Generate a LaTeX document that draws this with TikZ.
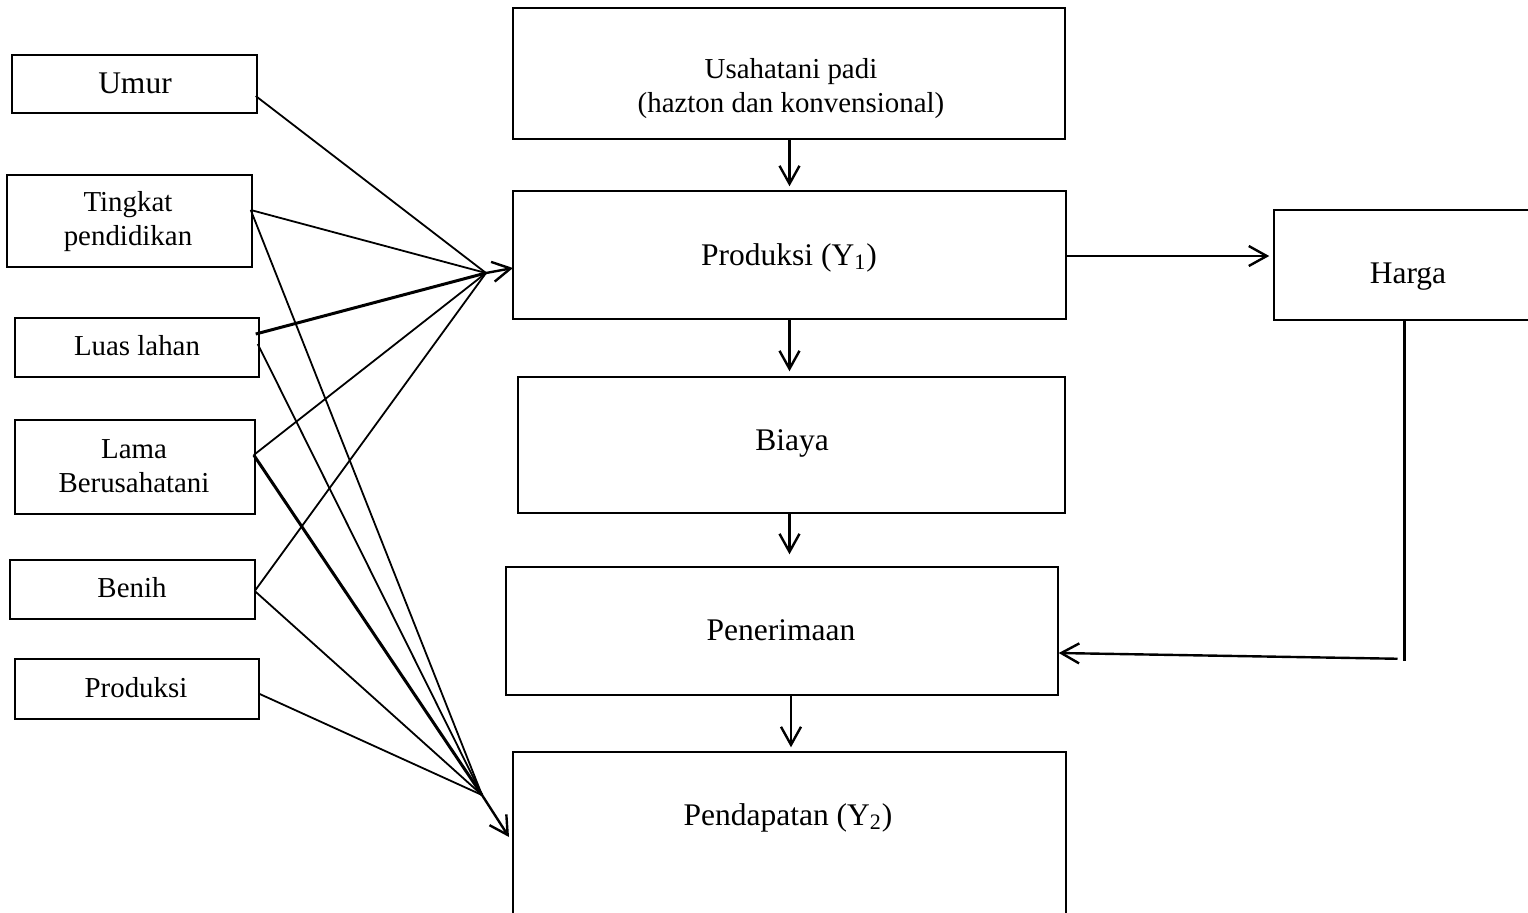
\documentclass[tikz,border=0pt]{standalone}
\usepackage{fontspec}
\setmainfont{Liberation Serif}
\usetikzlibrary{arrows.meta,calc,fit}
\begin{document}
\begin{tikzpicture}[x=0.5pt,y=-0.5pt,
  box/.style={draw,line width=0.75pt,inner sep=0pt},
  lbl/.style={inner sep=0pt,align=center},
  big/.style={font=\fontsize{15.75}{18}\selectfont},
  small/.style={font=\fontsize{14.45}{17}\selectfont},
  conn/.style={line width=0.9pt},
  thickconn/.style={line width=1.5pt},
  arr/.style={line width=1.2pt,-{Straight Barb[length=9pt,width=10pt]}},
]
\useasboundingbox (0,0) rectangle (1528,912);
% left boxes
\node[box,fit={(12,55) (257,113)}] (umur) {};
\node[box,fit={(7,175) (252,267)}] (tingkat) {};
\node[box,fit={(15,318) (259,377)}] (luas) {};
\node[box,fit={(15,420) (255,514)}] (lama) {};
\node[box,fit={(10,560) (255,619)}] (benih) {};
\node[box,fit={(15,659) (259,719)}] (prod) {};
% centre boxes
\node[box,fit={(513,8) (1065,139)}] (usaha) {};
\node[box,fit={(513,191) (1066,319)}] (y1) {};
\node[box,fit={(518,377) (1065,513)}] (biaya) {};
\node[box,fit={(506,567) (1058,695)}] (pener) {};
\node[box,fit={(513,752) (1066,940)}] (y2) {};
\node[box,fit={(1274,210) (1545,320)}] (harga) {};
% labels
\node[lbl,big,anchor=base] (umurT) at (135,93) {Umur};
\node[lbl,small] (tingkatT) at (128,222) {Tingkat\\pendidikan};
\node[lbl,small,anchor=base] (luasT) at (137,355) {Luas lahan};
\node[lbl,small] (lamaT) at (134,466) {Lama\\Berusahatani};
\node[lbl,small,anchor=base] (benihT) at (132,597) {Benih};
\node[lbl,small,anchor=base] (prodT) at (136,697) {Produksi};
\node[lbl,small] (usahaT) at (791,89) {Usahatani padi\\(hazton dan konvensional)};
\node[lbl,big,anchor=base] (y1T) at (789,265) {Produksi (Y\textsubscript{1})};
\node[lbl,big,anchor=base] (biayaT) at (792,450) {Biaya};
\node[lbl,big,anchor=base] (penerT) at (781,640) {Penerimaan};
\node[lbl,big,anchor=base] (y2T) at (788,825) {Pendapatan (Y\textsubscript{2})};
\node[lbl,big,anchor=base] (hargaT) at (1408,283) {Harga};
% convergence points
\coordinate (c1) at (486,273);
\coordinate (t1) at (513,268);
\coordinate (c2) at (482,795);
\coordinate (t2) at (509,837);
% lines to Produksi (Y1)
\draw[conn] ($(umur.east)+(-2,12)$) -- (c1);
\draw[conn] ($(tingkat.east)+(-2,-11)$) -- (c1);
\draw[thickconn] ($(luas.east)+(-4,-13.5)$) -- (c1);
\draw[conn] ($(lama.east)+(-2,-12)$) -- (c1);
\draw[conn] ($(benih.east)+(-1,1.5)$) -- (c1);
\draw[arr] (c1) -- (t1);
% lines to Pendapatan (Y2)
\draw[conn] ($(tingkat.east)+(-2,-11)$) -- (c2);
\draw[conn] ($(luas.east)+(-2,-3.5)$) -- (c2);
\draw[thickconn] ($(lama.east)+(-2,-12)$) -- (c2);
\draw[conn] ($(benih.east)+(-1,1.5)$) -- (c2);
\draw[conn] ($(prod.east)+(0,5)$) -- (c2);
\draw[arr] (c2) -- (t2);
% vertical chain
\draw[arr,shorten >=2pt] (usaha.south -| y1.center) -- (y1.north -| y1.center);
\draw[arr,shorten >=2.5pt] (y1.south -| y1.center) -- (biaya.north -| y1.center);
\draw[arr,shorten >=6pt] (biaya.south -| y1.center) -- (pener.north -| y1.center);
\draw[arr,shorten >=2pt] ($(pener.south -| y1.center)+(1.5,0)$) -- ($(y2.north -| y1.center)+(1.5,0)$);
% Produksi -> Harga
\draw[arr,shorten >=2pt] ($(y1.east)+(0,1)$) -- ($(y1.east -| harga.west)+(0,1)$);
% Harga -> Penerimaan
\draw[line width=1.2pt] ($(harga.south)+(-5,0)$) -- ++(0,340) coordinate (hb);
\draw[arr] ($(hb)+(-7,-2)$) -- ($(pener.east)+(0,22)$);
\end{tikzpicture}
\end{document}
